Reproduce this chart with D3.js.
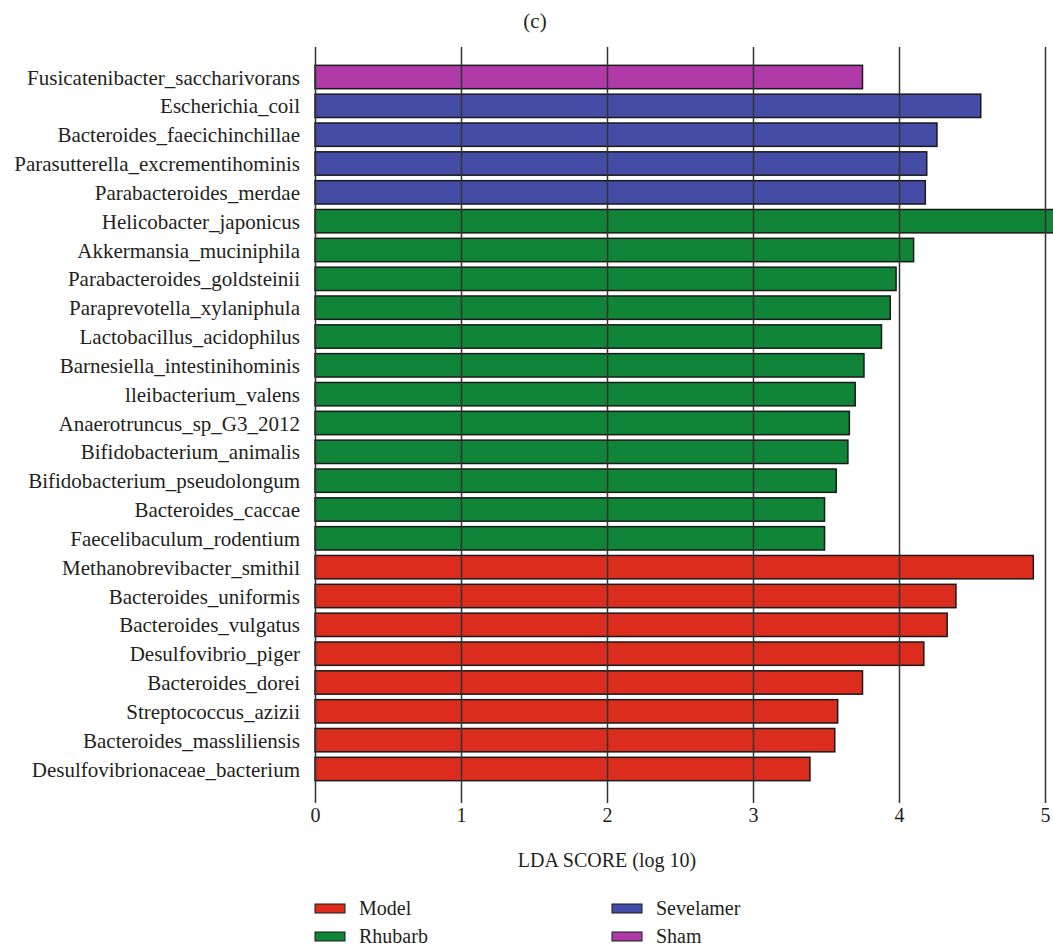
<!DOCTYPE html>
<html>
<head>
<meta charset="utf-8">
<script src="https://cdn.jsdelivr.net/npm/d3@7"></script>
<style>
    body { margin: 0; background: white; }
    text { font-family: "Liberation Serif", "Times New Roman", serif; fill: #231f20; }
</style>
</head>
<body>
<div id="lda_chart"></div>
<script>
// species, top to bottom
let species = [
    "Fusicatenibacter_saccharivorans",
    "Escherichia_coil",
    "Bacteroides_faecichinchillae",
    "Parasutterella_excrementihominis",
    "Parabacteroides_merdae",
    "Helicobacter_japonicus",
    "Akkermansia_muciniphila",
    "Parabacteroides_goldsteinii",
    "Paraprevotella_xylaniphula",
    "Lactobacillus_acidophilus",
    "Barnesiella_intestinihominis",
    "lleibacterium_valens",
    "Anaerotruncus_sp_G3_2012",
    "Bifidobacterium_animalis",
    "Bifidobacterium_pseudolongum",
    "Bacteroides_caccae",
    "Faecelibaculum_rodentium",
    "Methanobrevibacter_smithil",
    "Bacteroides_uniformis",
    "Bacteroides_vulgatus",
    "Desulfovibrio_piger",
    "Bacteroides_dorei",
    "Streptococcus_azizii",
    "Bacteroides_massliliensis",
    "Desulfovibrionaceae_bacterium"
];

let ldaScores = [3.75, 4.56, 4.26, 4.19, 4.18, 5.25, 4.10, 3.98, 3.94, 3.88, 3.76, 3.70, 3.66,
    3.65, 3.57, 3.49, 3.49, 4.92, 4.39, 4.33, 4.17, 3.75, 3.58, 3.56, 3.39];

let groupOf = ["Sham", "Sevelamer", "Sevelamer", "Sevelamer", "Sevelamer",
    "Rhubarb", "Rhubarb", "Rhubarb", "Rhubarb", "Rhubarb", "Rhubarb", "Rhubarb", "Rhubarb",
    "Rhubarb", "Rhubarb", "Rhubarb", "Rhubarb",
    "Model", "Model", "Model", "Model", "Model", "Model", "Model", "Model"];

let groups = ["Model", "Rhubarb", "Sevelamer", "Sham"];
let groupColors = ["#dc2c1e", "#108538", "#444ca6", "#af3aa8"];

let xTicks = [0, 1, 2, 3, 4, 5];

let chartW = 1053,
    chartH = 949,
    plotLeft = 315,
    unit = 146,
    gridTop = 47,
    gridBottom = 803;

let svg = d3.select("#lda_chart")
    .append("svg")
    .attr("width", chartW)
    .attr("height", chartH)
    .append("g");

let x = d3.scaleLinear()
    .domain([0, 5])
    .range([plotLeft, plotLeft + 5 * unit]);

let y = d3.scaleBand()
    .domain(species)
    .range([62.6, 783.4])
    .paddingInner(0.19)
    .paddingOuter(0.095);

let color = d3.scaleOrdinal()
    .domain(groups)
    .range(groupColors);

let rows = species.map(function (d, i) {
    return {name: d, score: ldaScores[i], group: groupOf[i]};
});

// title
svg.append("text")
    .attr("x", 535)
    .attr("y", 28)
    .text("(c)")
    .style("text-anchor", "middle")
    .style("font-size", "21px");

// bars
svg.selectAll(".bar")
    .data(rows)
    .enter()
    .append("rect")
    .attr("class", "bar")
    .attr("x", x(0))
    .attr("y", function (d) { return y(d.name); })
    .attr("width", function (d) { return x(d.score) - x(0); })
    .attr("height", y.bandwidth())
    .style("fill", function (d) { return color(d.group); })
    .style("stroke", "#1a1a1a")
    .style("stroke-width", 1.5);

// species labels
svg.selectAll(".label")
    .data(rows)
    .enter()
    .append("text")
    .attr("class", "label")
    .attr("x", plotLeft - 15)
    .attr("y", function (d) { return y(d.name) + y.bandwidth() / 2; })
    .attr("dy", "0.36em")
    .text(function (d) { return d.name; })
    .style("text-anchor", "end")
    .style("font-size", "21px");

// grid lines on top of the bars, labels below
let axis = svg.append("g")
    .attr("transform", "translate(0," + gridBottom + ")")
    .call(d3.axisBottom(x)
        .tickValues(xTicks)
        .tickFormat(d3.format("d"))
        .tickSizeInner(-(gridBottom - gridTop))
        .tickSizeOuter(0)
        .tickPadding(8));

axis.select(".domain").remove();
axis.selectAll(".tick line")
    .style("stroke", "#333")
    .style("stroke-width", 1.5);
axis.selectAll(".tick text")
    .attr("y", 5)
    .style("font-size", "20px")
    .style("font-family", "Liberation Serif, serif")
    .style("fill", "#231f20");

svg.append("text")
    .attr("x", x(2))
    .attr("y", 867)
    .text("LDA SCORE (log 10)")
    .style("text-anchor", "middle")
    .style("font-size", "20px");

// legend, two columns
let legend = svg.selectAll(".legend")
    .data(groups)
    .enter()
    .append("g")
    .attr("class", "legend")
    .attr("transform", function (d, i) {
        return "translate(" + (i < 2 ? 315 : 612) + "," + (904 + (i % 2) * 28) + ")";
    });

legend.append("rect")
    .attr("width", 30)
    .attr("height", 9)
    .style("fill", function (d) { return color(d); })
    .style("stroke", "#1a1a1a")
    .style("stroke-width", 1);

legend.append("text")
    .attr("x", 44)
    .attr("y", 11)
    .text(function (d) { return d; })
    .style("font-size", "20px");
</script>
</body>
</html>
